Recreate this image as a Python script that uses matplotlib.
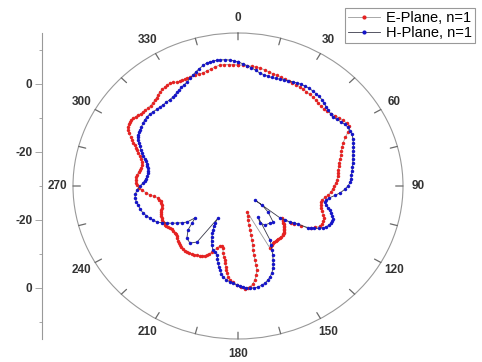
import numpy as np
import matplotlib
matplotlib.use("Agg")
import matplotlib.pyplot as plt

plt.rcParams['font.family'] = ['Liberation Sans', 'DejaVu Sans']

# E-plane (red), angle in degrees, level in dB
e_theta = [0, 2, 4, 6, 8, 10, 12, 14, 16, 18, 20, 22, 24, 26, 28, 30, 32, 34, 36, 38,
           40, 42, 44, 46, 48, 50, 52, 54, 56, 58, 60, 62, 64, 66, 68, 70, 72, 74, 76, 78,
           80, 82, 84, 86, 88, 90, 92, 94, 96, 98, 100, 102, 104, 106, 108, 110, 112, 114, 116, 118,
           120, 122, 124, 126, 127, 128, 129, 130, 131, 132, 133, 134, 135, 136, 137, 138, 139, 140, 141.5, 143,
           144.5, 146, 147.5, 149, 150.5, 152, 153.3, 154.5,
           162, 163.5, 164.6, 165.2, 165.8, 166.2, 166.5, 167.1, 167.7, 167.9, 168, 168.1, 168.2, 169.3, 170.5,
           172, 173.7, 175, 176.4, 178.5, 180.5, 182.5, 184.5, 185.7, 186.7, 187.3, 187.9, 188.6, 189.3, 190.5,
           191.7, 192.7, 194, 195.5, 197.4, 200, 201.3, 202.6, 204, 205.5, 207, 208.8, 210.5, 212, 214,
           215.6, 217.3, 219, 220.7, 222.4, 224, 225.5, 227, 228.5, 230, 231.5, 233.2, 234.9, 236.2, 237.5,
           238.8, 240, 241.5, 243, 244.3, 245.6, 247, 248.5, 250, 251.4, 253, 254.9, 256.5, 258, 259.5,
           260.9, 262.3, 263.7, 265.5, 267.4, 269, 270.7, 272, 273.7, 275.5, 277, 278.5, 280, 281.5, 283,
           285.1, 286.5, 288, 289.5, 291, 292, 293, 294, 295.1, 296.3, 297.5, 298.8, 300, 301.3, 302.5,
           303.7, 304.9, 306.2, 307.5, 308.8, 310, 311.5, 313, 314.8, 316.5, 318, 319.5, 321, 322.4, 324,
           325.5, 327, 328.5, 330, 331.4, 332.7, 334, 335.2, 336.4, 338, 340, 342, 344, 346, 348,
           350, 352, 354, 356, 358, 360]
e_r = [5.6, 5.6, 5.5, 5.4, 5.3, 5.2, 4.9, 4.6, 4.4, 4.2, 4.0, 4.0, 3.9, 3.8, 3.8, 3.7, 3.6, 3.4, 3.3, 3.2,
       3.0, 2.8, 2.6, 2.6, 2.8, 3.1, 3.6, 4.1, 4.6, 4.9, 5.1, 4.0, 2.6, 1.4, 0.6, 0.0, -0.5, -1.0, -1.5, -1.9,
       -2.2, -2.5, -2.7, -2.9, -3.3, -3.7, -4.2, -4.6, -5.2, -6.0, -6.7, -6.9, -6.8, -6.5, -5.9, -5.2, -4.8, -4.5, -4.4, -4.7,
       -5.6, -6.6, -9.2, -11.0, -11.9, -14.7, -14.3, -14.0, -13.6, -13.2, -12.8, -12.5, -12.2, -12.0, -11.6, -11.3, -11.1, -11.0, -11.0, -11.0,
       -11.0, -11.0, -10.9, -10.8, -10.6, -10.4, -10.1, -9.8,
       -22.0, -20.8, -19.6, -18.1, -16.6, -15.1, -13.7, -12.2, -10.7, -9.2, -7.7, -6.2, -4.8, -3.4, -2.0,
       -0.9, -0.1, 0.2, 0.3, -0.3, -0.9, -1.6, -2.3, -3.2, -4.2, -5.1, -6.0, -7.0, -7.9, -8.9,
       -9.9, -11.3, -11.7, -11.7, -10.9, -9.3, -8.6, -8.0, -7.6, -7.3, -7.0, -6.8, -6.6, -6.4, -6.2,
       -6.1, -6.1, -6.2, -6.3, -6.5, -6.8, -7.1, -7.4, -7.8, -7.9, -8.0, -8.0, -8.0, -7.8, -7.5,
       -7.2, -7.0, -6.9, -7.0, -7.1, -7.2, -7.3, -7.5, -7.6, -7.8, -8.2, -8.5, -8.5, -8.4, -8.2,
       -7.9, -7.0, -5.9, -4.8, -3.8, -3.1, -2.5, -2.2, -2.0, -2.1, -2.3, -2.6, -2.9, -3.1, -3.1,
       -2.9, -2.4, -1.8, -1.2, -0.5, 0.0, 0.6, 1.2, 1.9, 2.7, 3.5, 4.2, 4.7, 4.9, 5.0,
       5.0, 4.9, 4.6, 4.3, 4.0, 3.8, 3.7, 3.6, 3.6, 3.7, 3.9, 4.2, 4.6, 4.9, 5.1,
       5.3, 5.4, 5.5, 5.2, 4.8, 4.7, 4.7, 4.7, 4.7, 4.6, 4.6, 4.6, 4.6, 4.9, 5.2,
       5.6, 5.9, 5.9, 5.8, 5.7, 5.6]

# H-plane (blue)
h_theta = [0, 2, 4, 6, 8, 10, 12, 14, 16, 18, 20, 22, 24, 26, 28, 30, 32, 34, 36, 38,
           40, 42, 44, 46, 48, 50, 52, 54, 56, 58, 60, 62, 64, 66, 68, 70, 72, 74, 76, 78,
           80, 82, 84, 86, 88, 90, 92, 94, 96, 98, 100, 101.3, 103, 104.8, 106, 107.5, 109, 110.5, 112, 113.5,
           115, 116.5, 118, 119.5, 121, 122, 123, 124.3, 125.5, 126.7, 128, 129.3,
           131.8, 130.5, 133, 137.9, 141.3, 147.3, 151.2, 149,
           151.2, 152.5, 153.8, 155, 156.3, 157.3, 158.4, 160, 162, 163.8, 165.5, 167.5, 169.6, 171.7, 173.8,
           175.6, 177.4, 179, 180.5, 182.5, 184.4, 186.5, 188.7, 190, 191.2, 192.3, 193.5, 194.6, 195.7, 197.8,
           200, 202.3, 204, 205.4, 206.6, 207.8, 209, 209.9, 210,
           214.1, 218, 222.3, 226.5, 229, 231.3,
           232.7, 234.7, 236.8, 238.7, 240.6, 242.5, 244.4, 246.5, 248.6, 250.8, 253, 255.5, 258.4, 260.5, 262.9,
           265, 267.6, 270, 272, 273.5, 275, 277, 278.9, 280.5, 282, 283.5, 284.9, 286.2, 287.5, 289,
           290.4, 292, 293.5, 295, 296.4, 297.7, 299, 300.3, 301.6, 303.5, 305.5, 307.4, 309.3, 311.4, 313.5,
           315.5, 317.5, 319.5, 321.5, 323.7, 325.9, 327.5, 329, 330.5, 332, 333.8, 335.6, 337.5, 339.4, 341.2,
           343, 345, 346.8, 348.2, 349.5, 351, 352.5, 354.6, 356.7, 358.4, 360]
h_r = [6.5, 6.0, 5.5, 5.0, 4.4, 3.8, 3.5, 3.3, 3.2, 3.3, 3.4, 3.6, 3.8, 4.1, 4.3, 4.5, 4.6, 4.7, 4.6, 4.5,
       4.4, 4.2, 3.8, 3.5, 3.2, 3.0, 2.9, 3.3, 3.8, 4.3, 4.6, 4.7, 4.6, 4.3, 3.9, 3.5, 3.0, 2.6, 2.3, 2.0,
       1.7, 1.4, 1.1, 0.9, 0.6, 0.0, -0.9, -2.0, -3.4, -4.9, -5.6, -5.8, -5.3, -4.6, -4.0, -3.4, -2.8, -2.4, -2.3, -2.4,
       -2.7, -3.1, -3.8, -4.7, -5.8, -6.5, -7.3, -10.2, -11.3, -12.3, -13.8, -15.2,
       -23.8, -21.4, -18.8, -15.7, -16.0, -16.4, -17.6, -19.4,
       -11.9, -10.4, -9.0, -7.6, -6.2, -5.1, -4.1, -2.9, -1.8, -1.1, -0.5, -0.1, 0.2, 0.3, 0.2,
       0.0, -0.3, -0.6, -0.9, -1.3, -1.7, -2.2, -2.9, -3.8, -4.8, -5.7, -6.7, -7.8, -8.9, -9.5,
       -10.0, -11.2, -12.3, -13.4, -14.4, -15.4, -16.4, -17.4, -19.1,
       -10.1, -8.7, -9.3, -11.2, -13.4, -15.0,
       -12.5, -11.3, -10.1, -8.9, -7.8, -6.6, -5.5, -4.8, -4.2, -3.5, -2.9, -2.5, -2.2, -1.9, -1.7,
       -1.9, -2.4, -3.3, -4.1, -4.5, -4.8, -5.1, -5.2, -5.1, -4.9, -4.6, -4.3, -3.8, -3.3, -2.7,
       -2.1, -1.4, -0.8, -0.1, 0.5, 0.8, 1.1, 1.3, 1.4, 1.6, 1.8, 2.0, 2.1, 2.0, 1.8,
       1.6, 1.5, 1.4, 1.4, 1.5, 1.6, 1.9, 2.2, 2.5, 2.9, 3.2, 3.6, 4.3, 4.9, 5.5,
       6.1, 6.7, 7.2, 7.3, 7.4, 7.4, 7.4, 7.3, 7.1, 6.8, 6.5]

angle_ticks = list(range(0, 360, 30))
angle_labels = [str(a) for a in angle_ticks]
minor_angles = list(range(0, 360, 15))
r_min, r_max = -30, 15
level_ticks = [0, -20]

fig = plt.figure(figsize=(4.82, 3.62), dpi=100)
ax = fig.add_axes([73 / 482, 23 / 362, 330 / 482, 306 / 362], projection='polar')
ax.set_aspect('auto')
ax.set_theta_zero_location('N')
ax.set_theta_direction(-1)

ax.plot(np.deg2rad(e_theta), e_r, '-o', color='#9a9a9a', lw=0.6, ms=2.5,
        mfc='#e52222', mec='#e52222', mew=0, label='E-Plane, n=1', zorder=3)
ax.plot(np.deg2rad(h_theta), h_r, '-o', color='#3a3a4a', lw=0.6, ms=2.5,
        mfc='#1515c8', mec='#1515c8', mew=0, label='H-Plane, n=1', zorder=3)

ax.set_rlim(r_min, r_max)
ax.set_yticks([])
ax.grid(False)
ax.set_thetagrids(angle_ticks, angle_labels, fontsize=8.5, fontweight='bold', color='#333333')
ax.tick_params(axis='x', direction='in', pad=4)
ax.spines['polar'].set_color('#999999')
ax.spines['polar'].set_linewidth(0.8)

# short inward ticks on the outer circle every 15 degrees (drawn after the limits are fixed)
tick_len = 2.0
for a in minor_angles:
    ax.annotate('', xy=(np.deg2rad(a), r_max), xytext=(np.deg2rad(a), r_max - tick_len),
                xycoords='data', textcoords='data',
                arrowprops=dict(arrowstyle='-', color='#6a6a6a', lw=0.9, shrinkA=0, shrinkB=0),
                annotation_clip=False)

# left-hand level scale (mirrored about the centre)
ax2 = fig.add_axes([42 / 482, 23 / 362, 0.001, 306 / 362])
ax2.set_facecolor('none')
for s in ['right', 'top', 'bottom']:
    ax2.spines[s].set_visible(False)
ax2.spines['left'].set_color('#999999')
ax2.spines['left'].set_linewidth(0.8)
span = r_max - r_min
ax2.set_ylim(-span, span)
pos = [v - r_min for v in level_ticks]
ax2.set_yticks([-p for p in pos] + pos[::-1])
ax2.set_yticklabels([str(v) for v in level_ticks] + [str(v) for v in level_ticks[::-1]],
                    fontsize=8.5, fontweight='bold', color='#333333')
ax2.set_yticks([-40, -20, 0, 20, 40], minor=True)
ax2.set_xticks([])
ax2.tick_params(axis='y', which='major', length=5, width=0.6, color='#999999', pad=2)
ax2.tick_params(axis='y', which='minor', length=2.5, width=0.6, color='#999999')

handles, labels = ax.get_legend_handles_labels()
leg = fig.legend(handles[:2], labels[:2], loc='upper left', bbox_to_anchor=(345 / 482, 1 - 8 / 362),
                 fontsize=10.5, frameon=True, fancybox=False, edgecolor='#999999', framealpha=1,
                 handlelength=2.2, handletextpad=0.4, borderpad=0.2, labelspacing=0.05,
                 borderaxespad=0, markerscale=1.2)
leg.get_frame().set_linewidth(0.8)

fig.savefig('out.png', dpi=100)
